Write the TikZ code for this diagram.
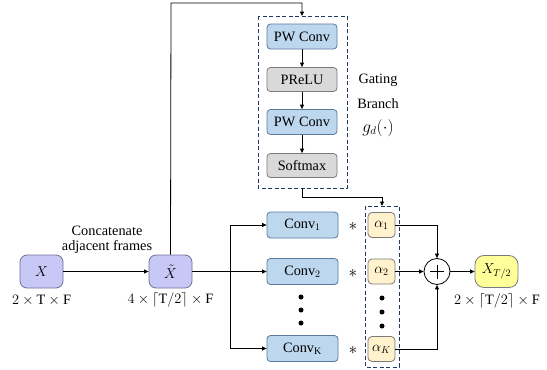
\documentclass[tikz,border=0pt]{standalone}
\usepackage{fontspec}
\setmainfont{Liberation Serif}
\usetikzlibrary{arrows.meta,positioning,calc}
\definecolor{pur}{HTML}{C8C8F6}
\definecolor{purd}{HTML}{6F6F99}
\definecolor{blu}{HTML}{BDD7EE}
\definecolor{blud}{HTML}{5A7A99}
\definecolor{gry}{HTML}{D9D9D9}
\definecolor{gryd}{HTML}{7A7A7A}
\definecolor{alp}{HTML}{FFF2CC}
\definecolor{yel}{HTML}{FFFF99}
\definecolor{navy}{HTML}{203864}
\begin{document}
\begin{tikzpicture}[x=1pt,y=-1pt,
  font=\fontsize{14.3}{16}\selectfont,
  line width=0.8pt,
  arr/.style={-{Triangle[length=4.5pt,width=4pt]}},
  purbox/.style={draw=purd,fill=pur,rounded corners=7pt,minimum width=43pt,minimum height=33pt,inner sep=0pt},
  bluebox/.style={draw=blud,fill=blu,rounded corners=3.5pt,minimum width=70pt,minimum height=25pt,inner sep=0pt},
  graybox/.style={draw=gryd,fill=gry,rounded corners=3.5pt,minimum width=70pt,minimum height=24pt,inner sep=0pt},
  alpbox/.style={draw=gryd,fill=alp,rounded corners=4pt,minimum width=27pt,minimum height=25pt,inner sep=0pt},
  yelbox/.style={draw=gryd,fill=yel,rounded corners=9pt,minimum width=43pt,minimum height=32pt,inner sep=0pt},
  dbox/.style={draw=navy,dashed,dash pattern=on 4pt off 2.5pt,line width=1pt},
  lbl/.style={inner sep=1pt},
  dot/.style={circle,fill=black,inner sep=0pt,minimum size=5pt},
  star/.style={inner sep=0pt,font=\fontsize{18}{18}\selectfont}
]
\useasboundingbox (0,0) rectangle (547,370);

% input nodes
\node[purbox] (x) at (41.5,271.5) {$X$};
\node[purbox] (xt) at (170.5,271.5) {$\tilde{X}$};
\node[lbl] (xl) at (41.5,300) {$2\times\mathrm{T}\times\mathrm{F}$};
\node[lbl] (xtl) at (170.5,300) {$4\times\lceil\mathrm{T}/2\rceil\times\mathrm{F}$};
\node[lbl,align=center] (cat) at (107,240) {Concatenate\\[-1pt]adjacent frames};
\draw[arr] (x) -- (xt);

% gating branch
\node[bluebox] (pw1) at (302,36.5) {PW Conv};
\node[graybox] (prelu) at (302,79.5) {PReLU};
\node[bluebox] (pw2) at (302,122) {PW Conv};
\node[graybox] (soft) at (302,165.5) {Softmax};
\draw[arr] (pw1) -- (prelu);
\draw[arr] (prelu) -- (pw2);
\draw[arr] (pw2) -- (soft);
\draw[dbox] (258,16) rectangle (347,188);
\coordinate (gtop) at (302,16);
\coordinate (gbot) at (302,188);
\node[lbl] (g1) at (378,80) {Gating};
\node[lbl] (g2) at (378,104) {Branch};
\node[lbl,font=\fontsize{16}{16}\selectfont] (g3) at (378,128) {$g_d(\cdot)$};

% conv branches
\node[bluebox,minimum width=71pt,minimum height=26pt] (c1) at (302.5,225) {Conv$_1$};
\node[bluebox,minimum width=71pt,minimum height=26pt] (c2) at (302.5,271.5) {Conv$_2$};
\node[bluebox,minimum width=71pt,minimum height=26pt] (ck) at (302.5,348.5) {Conv$_\mathrm{K}$};
\coordinate (sp) at (230,271.5);
\draw (xt) -- (sp);
\draw[arr] (sp) -- (c2);
\draw[arr] (sp) |- (c1);
\draw[arr] (sp) |- (ck);
\node[dot] (d1) at (301,297) {};
\node[dot] (d2) at (301,310) {};
\node[dot] (d3) at (301,323) {};

% stars
\node[star] (s1) at (353,226.5) {$*$};
\node[star] (s2) at (353,273) {$*$};
\node[star] (sk) at (353,350) {$*$};

% alphas
\draw[dbox] (365,206) rectangle (399,367);
\coordinate (atop) at (382,206);
\node[alpbox] (a1) at (381.5,225) {$\alpha_1$};
\node[alpbox] (a2) at (381.5,271.5) {$\alpha_2$};
\node[alpbox] (ak) at (381.5,349) {$\alpha_K$};
\node[dot] (e1) at (382,298) {};
\node[dot] (e2) at (382,312) {};
\node[dot] (e3) at (382,326) {};

% routes from gating
\coordinate (tl) at (171,3);
\coordinate (tr) at (302,3);
\draw[arr] (xt.north) -- (tl) -- (tr) -- (gtop);
\coordinate (bl) at (302,197);
\coordinate (br) at (382,197);
\draw[arr] (gbot) -- (bl) -- (br) -- (atop);

% sum
\node[draw,circle,minimum size=26pt,inner sep=0pt,fill=white] (plus) at (437,271.5) {};
\draw[line width=0.9pt] ($(plus.center)+(-7,0)$) -- ($(plus.center)+(7,0)$);
\draw[line width=0.9pt] ($(plus.center)+(0,-7)$) -- ($(plus.center)+(0,7)$);
\draw[arr] (a1.east) -| (plus.north);
\draw[arr] (a2) -- (plus);
\draw[arr] (ak.east) -| (plus.south);

% output
\node[yelbox] (out) at (496.5,271.5) {$X_{T/2}$};
\node[lbl] (outl) at (497,301) {$2\times\lceil\mathrm{T}/2\rceil\times\mathrm{F}$};
\draw[arr] (plus) -- (out);
\end{tikzpicture}
\end{document}
